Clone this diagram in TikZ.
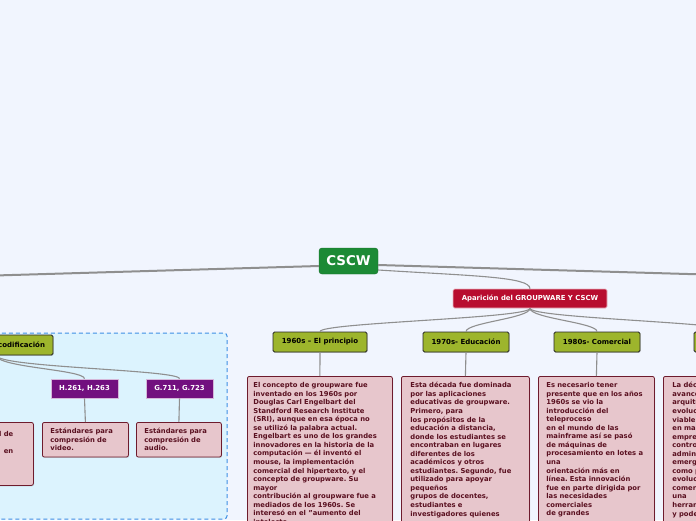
\documentclass[tikz,border=0pt]{standalone}
\usepackage{fontspec}
\setmainfont{DejaVu Sans}
\usepackage{tikz}
\usetikzlibrary{shadows}
\frenchspacing
\definecolor{bgpale}{HTML}{F1F5FE}
\definecolor{panelfill}{HTML}{DCF3FE}
\definecolor{paneldash}{HTML}{3E8FE4}
\definecolor{cscwgreen}{HTML}{1C8A35}
\definecolor{topicred}{HTML}{B80D2F}
\definecolor{eraolive}{HTML}{9DB52C}
\definecolor{stdpurple}{HTML}{72107F}
\definecolor{notepink}{HTML}{E7C6CC}
\definecolor{notedark}{HTML}{6E1B2D}
\definecolor{notetext}{HTML}{5A1020}
\definecolor{linkgray}{HTML}{8F8F8F}

\begin{document}
\begin{tikzpicture}[x=1pt,y=-1pt,
    era/.style={draw=black!85,line width=0.8pt,fill=eraolive,rounded corners=1.5pt,
      minimum height=20pt,inner sep=0pt,font=\fontsize{7}{8}\selectfont\bfseries,
      drop shadow={shadow xshift=0.6pt,shadow yshift=-0.9pt,opacity=0.35}},
    stdbox/.style={draw=white!70!stdpurple,line width=0.6pt,fill=stdpurple,text=white,
      minimum width=67pt,minimum height=19pt,inner sep=0pt,font=\fontsize{6.9}{8}\selectfont\bfseries,
      drop shadow={shadow xshift=0.6pt,shadow yshift=-0.9pt,opacity=0.25}},
    note/.style={draw=notedark,line width=0.8pt,fill=notepink,rounded corners=2pt,text=notetext,
      align=left,anchor=north west,inner ysep=6pt,font=\fontsize{6.8}{8.55}\selectfont\bfseries,
      drop shadow={shadow xshift=0.6pt,shadow yshift=-0.9pt,opacity=0.3}},
    link/.style={draw=linkgray,line width=1.1pt},
    biglink/.style={draw=linkgray,line width=2pt}]
  % page and frame of the coding branch
  \fill[bgpale] (0,0) rectangle (696,520);
  \useasboundingbox (0,0) rectangle (696,520);
  \draw[paneldash,fill=panelfill,line width=1pt,dash pattern=on 4pt off 3pt,rounded corners=3pt]
    (-20,333) rectangle (227,519);

  % central topic and first branch
  \node[draw=cscwgreen!80!black,fill=cscwgreen,text=white,rounded corners=3pt,
    minimum width=59pt,minimum height=26pt,inner sep=0pt,
    font=\fontsize{13.4}{15}\selectfont\bfseries] (cscw) at (348.5,261) {CSCW};
  \node[draw=white!70!topicred,line width=0.6pt,fill=topicred,text=white,rounded corners=1.5pt,
    minimum width=154pt,minimum height=19pt,inner sep=0pt,
    font=\fontsize{6.9}{8}\selectfont\bfseries] (aparicion) at (530,298.5) {Aparición del GROUPWARE Y CSCW};
  \coordinate (lout) at (-5,275.5);
  \coordinate (rout) at (705,274.5);

  % decades
  \node[era,minimum width=94pt] (era60) at (320,342) {1960s – El principio};
  \node[era,minimum width=86pt] (era70) at (466,342) {1970s- Educación};
  \node[era,minimum width=86pt] (era80) at (597,342) {1980s- Comercial};
  \node[era,minimum width=86pt] (era90) at (737,342) {};

  \node[note,text width=133pt,inner xsep=6pt] (note60) at (247,376) {El concepto de groupware fue\\
    inventado en los 1960s por\\
    Douglas Carl Engelbart del\\
    Standford Research Institute\\
    (SRI), aunque en esa época no\\
    se utilizó la palabra actual.\\
    Engelbart es uno de los grandes\\
    innovadores en la historia de la\\
    computación — él inventó el\\
    mouse, la implementación\\
    comercial del hipertexto, y el\\
    concepto de groupware. Su\\
    mayor\\
    contribución al groupware fue a\\
    mediados de los 1960s. Se\\
    interesó en el "aumento del\\
    intelecto};
  \node[note,text width=110pt,inner xsep=9pt] (note70) at (401,376) {Esta década fue dominada\\
    por las aplicaciones\\
    educativas de groupware.\\
    Primero, para\\
    los propósitos de la\\
    educación a distancia,\\
    donde los estudiantes se\\
    encontraban en lugares\\
    diferentes de los\\
    académicos y otros\\
    estudiantes. Segundo, fue\\
    utilizado para apoyar\\
    pequeños\\
    grupos de docentes,\\
    estudiantes e\\
    investigadores quienes};
  \node[note,text width=100pt,inner xsep=8pt] (note80) at (538,376) {Es necesario tener\\
    presente que en los años\\
    1960s se vio la\\
    introducción del\\
    teleproceso\\
    en el mundo de las\\
    mainframe así se pasó\\
    de máquinas de\\
    procesamiento en lotes a\\
    una\\
    orientación más en\\
    línea. Esta innovación\\
    fue en parte dirigida por\\
    las necesidades\\
    comerciales\\
    de grandes};
  \node[note,text width=130pt,inner xsep=9pt] (note90) at (663,376) {La década\\
    avances\\
    arquitectura\\
    evolución\\
    viable\\
    en manos\\
    empresas\\
    control\\
    administración\\
    emergente\\
    como parte\\
    evolución\\
    comercial\\
    una\\
    herramienta\\
    y poderosa};

  % coding standards
  \node[era,minimum width=113pt,text width=97pt,inner xsep=8pt,align=right] (cod) at (-3.5,345) {codificación};
  \node[stdbox] (h26x) at (84.5,388.5) {H.261, H.263};
  \node[stdbox] (g7xx) at (179.5,388.5) {G.711, G.723};
  \node[note,text width=70pt,inner xsep=8pt] (notevid) at (42,422) {Estándares para\\compresión de\\video.};
  \node[note,text width=69pt,inner xsep=8pt] (noteaud) at (136,422) {Estándares para\\compresión de\\audio.};
  \node[note,minimum width=133pt,minimum height=63pt] (noteleft) at (-100,422) {};
  \node[anchor=north east,align=right,inner sep=0pt,text=notetext,
    font=\fontsize{6.8}{8.55}\selectfont\bfseries] (lefttext) at (13.5,428) {\mbox{}\\l de\\\mbox{}\\en};

  % connectors
  \draw[biglink] ([yshift=-5pt]cscw.west) -- (lout);
  \draw[biglink] ([yshift=-4pt]cscw.east) -- (rout);
  \draw[link] ([yshift=-9pt]cscw.east) .. controls +(95,6) and +(0,-12) .. (aparicion.north);
  \foreach \e in {era60,era70,era80,era90}{
    \draw[link] (aparicion.south) .. controls +(0,10) and +(0,-9) .. (\e.north);
  }
  \foreach \e/\n in {era60/note60,era70/note70,era80/note80,era90/note90}{
    \draw[link] (\e.south) -- (\n.north);
  }
  \foreach \s in {h26x,g7xx}{
    \draw[link] (cod.south) .. controls +(0,12) and +(0,-9) .. (\s.north);
  }
  \draw[link] (h26x.south) -- (notevid.north);
  \draw[link] (g7xx.south) -- (noteaud.north);
\end{tikzpicture}
\end{document}
